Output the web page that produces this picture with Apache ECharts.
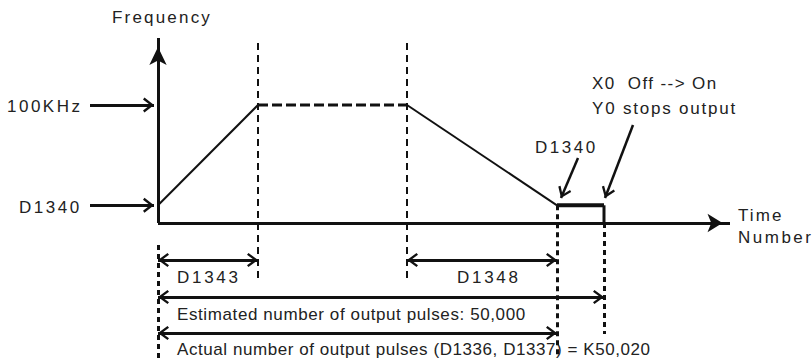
<!DOCTYPE html>
<html>
<head>
<meta charset="utf-8">
<script src="https://cdn.jsdelivr.net/npm/echarts@6/dist/echarts.min.js"></script>
<style>
  html, body { margin: 0; padding: 0; background: #fff; }
  #chart { width: 812px; height: 363px; }
  #chart text { white-space: pre; }
</style>
</head>
<body>
<div id="chart"></div>
<script>
// pulse output profile, time in units of the accel time (D1343), 100KHz = 100
const keyTimes = [0, 1.0, 2.49, 3.99, 4.46]   // start, end accel, start decel, end decel, X0 stop
const keyFreqs = [15, 100, 100, 15, 15]
const levelLabels = ['100KHz', 'D1340']
const levelValues = [100, 15]
const spanLabels = ['D1343', 'D1348']
const pulseTexts = [
  'Estimated number of output pulses: 50,000',
  'Actual number of output pulses (D1336, D1337) = K50,020'
]

const INK = '#111'
const TXT = '#222'
const FONT = 'Arial, "Liberation Sans", sans-serif'

// page layout: origin of the plot in pixels and pixels per unit
const X0 = 158, Y0 = 223, PX_T = 100, PX_F = 1.18
const xAt = px => (px - X0) / PX_T
const yAt = px => (Y0 - px) / PX_F

// open arrow head, drawn pointing up
const CHEV = 'path://M50 0L100 78L87 90L50 32L13 90L0 78Z'
const HEAD = [14, 11]

const letterSpacing = {
  'Frequency': 2.2, '100KHz': 2.5, 'D1340': 2.5, 'D1343': 2.7, 'D1348': 2.7,
  'X0  Off --> On': 1.4, 'Y0 stops output': 1.8, 'Time': 2.1, 'Number': 2.5
}
letterSpacing[pulseTexts[0]] = 0.6
letterSpacing[pulseTexts[1]] = 0.56

const chart = echarts.init(document.getElementById('chart'), null, { renderer: 'svg' })

const seg = (data, style) => ({
  type: 'line',
  data,
  symbol: 'none',
  silent: true,
  animation: false,
  z: 3,
  lineStyle: Object.assign({ color: INK, type: 'solid' }, style)
})

const marks = (lines, opts) => ({
  type: 'line',
  data: [],
  silent: true,
  animation: false,
  markLine: Object.assign({
    silent: true,
    animation: false,
    label: { show: false },
    emphasis: { disabled: true },
    data: lines
  }, opts)
})

// a - b segment, with optional head size at each end ([w, h], tip on the point)
const line = (a, b, headB, headA) => [
  { coord: a, symbolSize: headA || 0, symbolOffset: [0, headA ? headA[1] / 2 : 0] },
  { coord: b, symbolSize: headB || 0, symbolOffset: [0, headB ? headB[1] / 2 : 0] }
]

const T = keyTimes
const F = keyFreqs
const tEnd = xAt(730)
const fTop = yAt(38)

const rowSpan = yAt(260), rowEst = yAt(297), rowAct = yAt(333)

const option = {
  backgroundColor: '#fff',
  animation: false,
  grid: { left: 0, right: 0, top: 0, bottom: 0 },
  xAxis: { type: 'value', min: xAt(0), max: xAt(812), show: false },
  yAxis: { type: 'value', min: yAt(363), max: yAt(0), show: false },
  series: [
    // profile
    seg([[T[0], F[0]], [T[1], F[1]]], { width: 2 }),
    seg([[T[1], F[1]], [T[2], F[2]]], { width: 3, type: [10, 4] }),
    seg([[T[2], F[2]], [T[3], F[3]]], { width: 2 }),
    seg([[T[3], F[3]], [T[4], F[4]]], { width: 4 }),
    seg([[T[4], F[4]], [T[4], 0]], { width: 3 }),
    // axes
    marks([
      line([0, 0], [tEnd, 0], [14, 15]),
      line([0, 0], [0, fTop], [13, 18])
    ], { symbol: ['none', 'arrow'], lineStyle: { color: INK, width: 3, type: 'solid' } }),
    // thin dashed guides
    marks([
      line([T[1], yAt(43)], [T[1], yAt(283)]),
      line([T[2], yAt(43)], [T[2], yAt(283)])
    ], { symbol: ['none', 'none'], lineStyle: { color: INK, width: 2, type: [7, 5] } }),
    // thick dotted guides
    marks([
      line([T[0], yAt(245)], [T[0], yAt(358)]),
      line([T[3], F[3]], [T[3], yAt(358)]),
      line([T[4], 0], [T[4], yAt(334)])
    ], { symbol: ['none', 'none'], lineStyle: { color: INK, width: 3, type: [5, 4] } }),
    // span arrows
    marks([
      line([T[0], rowSpan], [T[1], rowSpan], HEAD, HEAD),
      line([T[2], rowSpan], [T[3], rowSpan], HEAD, HEAD),
      line([T[0], rowEst], [T[4], rowEst], HEAD, HEAD),
      line([T[0], rowAct], [T[3], rowAct], HEAD, HEAD)
    ], { symbol: [CHEV, CHEV], lineStyle: { color: INK, width: 3, type: 'solid' } }),
    // level arrows
    marks(levelValues.map(v => line([xAt(90), v], [xAt(154), v], [15, 11])), {
      symbol: ['none', CHEV],
      lineStyle: { color: INK, width: 3, type: 'solid' }
    }),
    // callout arrows
    marks([
      line([xAt(578), yAt(158)], [xAt(561), yAt(198)], HEAD),
      line([xAt(633), yAt(125)], [xAt(605), yAt(198)], HEAD)
    ], {
      symbol: ['none', CHEV],
      lineStyle: { color: INK, width: 2.5, type: 'solid' }
    })
  ],
  graphic: [
    ['Frequency', 162, 17, 'center'],
    [levelLabels[0], 7, 106],
    [levelLabels[1], 19, 207],
    [spanLabels[0], 177, 277],
    [spanLabels[1], 457, 277],
    [pulseTexts[0], 177, 314],
    [pulseTexts[1], 177, 349],
    ['X0  Off --> On', 592, 83],
    ['Y0 stops output', 592, 108],
    ['D1340', 535, 147],
    ['Time', 738, 215],
    ['Number', 738, 237]
  ].map(([text, x, y, align]) => ({
    type: 'text',
    x, y,
    silent: true,
    style: {
      text,
      fill: TXT,
      fontSize: 17,
      fontFamily: FONT,
      align: align || 'left',
      verticalAlign: 'middle'
    }
  }))
}

chart.setOption(option)

const applySpacing = () => {
  document.querySelectorAll('#chart text').forEach(el => {
    const ls = letterSpacing[el.textContent]
    if (ls != null) el.setAttribute('letter-spacing', ls)
  })
}
applySpacing()
chart.on('finished', applySpacing)
</script>
</body>
</html>
